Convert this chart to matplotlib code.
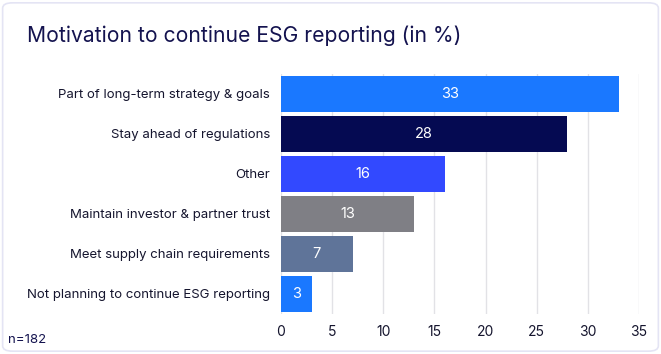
import matplotlib.pyplot as plt
from matplotlib.patches import FancyBboxPatch

# ── Data ────────────────────────────────────────────────────────
categories = [
    "Part of long-term strategy & goals",
    "Stay ahead of regulations",
    "Other",
    "Maintain investor & partner trust",
    "Meet supply chain requirements",
    "Not planning to continue ESG reporting",
]
values = [33, 28, 16, 13, 7, 3]
bar_colors = ["#1a78ff", "#050a52", "#3249ff", "#7f7f85", "#5f7499", "#1a78ff"]
x_ticks = [0, 5, 10, 15, 20, 25, 30, 35]

plt.rcParams['font.family'] = ['Inter', 'DejaVu Sans']

fig = plt.figure(figsize=(6.61, 3.54), dpi=100)
fig.patch.set_facecolor("white")

# card outline (behind everything)
card = FancyBboxPatch((0.004, 0.008), 0.992, 0.984,
                      boxstyle="round,pad=0,rounding_size=0.015",
                      transform=fig.transFigure, facecolor="white",
                      edgecolor="#e4e4f4", linewidth=1.2, zorder=-10)
fig.patches.append(card)

ax = fig.add_axes([0.4251, 0.113, 0.5416, 0.678])
ax.set_facecolor("none")
ax.set_zorder(2)

y = list(range(len(categories)))
ax.barh(y, values, height=0.9, color=bar_colors, zorder=3)
for yi, v in zip(y, values):
    ax.text(v / 2, yi, str(v), ha="center", va="center",
            color="white", fontsize=10.5, zorder=4)

ax.set_yticks(y)
ax.set_yticklabels(categories, fontsize=9.5, color="#15152e")
ax.set_ylim(len(categories) - 0.5, -0.5)
ax.set_xlim(0, 35)
ax.set_xticks(x_ticks)
ax.set_xticklabels([str(t) for t in x_ticks], fontsize=10, color="#15152e")
ax.tick_params(length=0, axis="y", pad=8)
ax.tick_params(length=0, axis="x", pad=8)
ax.grid(axis="x", color="#e2e2e6", linewidth=1, zorder=0)
for s in ax.spines.values():
    s.set_visible(False)

fig.text(0.041, 0.9, "Motivation to continue ESG reporting (in %)",
         fontsize=15.2, color="#14134f", va="center", ha="left")
fig.text(0.012, 0.04, "n=182", fontsize=9.5, color="#14134f",
         va="center", ha="left")

fig.savefig("out.png", dpi=100)
